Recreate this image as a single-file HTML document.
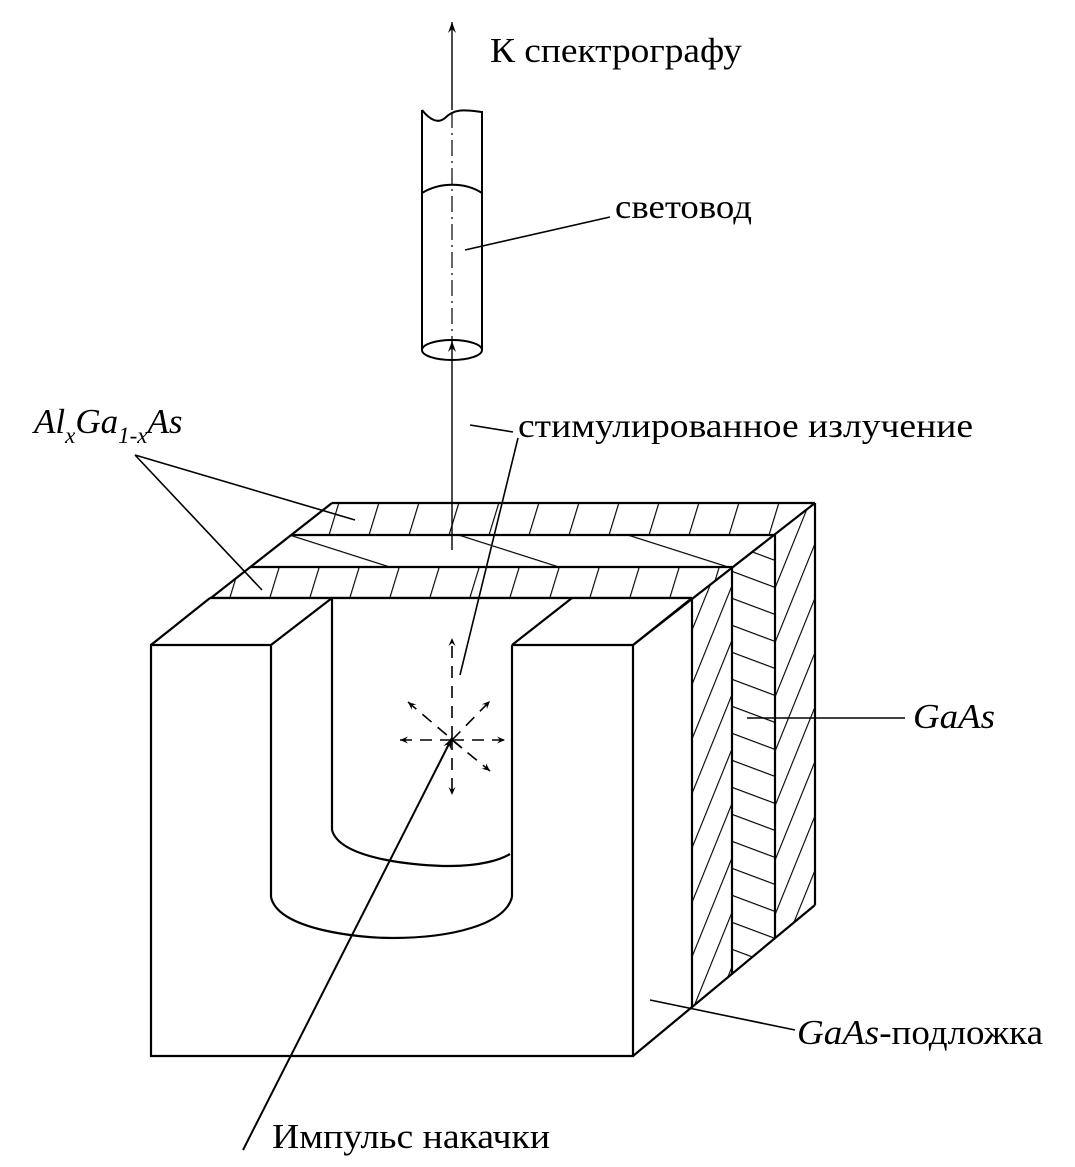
<!DOCTYPE html>
<html><head><meta charset="utf-8"><style>
html,body{margin:0;padding:0;background:#fff}
svg{display:block}
text{font-family:"Liberation Serif",serif;fill:#000}
</style></head><body>
<svg width="1075" height="1167" viewBox="0 0 1075 1167" xmlns="http://www.w3.org/2000/svg">
<defs>
<pattern id="pA" width="40" height="200" patternUnits="userSpaceOnUse" patternTransform="translate(12,0) skewX(-17)">
<line x1="0" y1="0" x2="0" y2="200" stroke="#000" stroke-width="2.4"/></pattern>
<pattern id="pB" width="400" height="54" patternUnits="userSpaceOnUse" patternTransform="translate(0,10) skewY(17.7)">
<line x1="0" y1="0" x2="400" y2="0" stroke="#000" stroke-width="2.4"/></pattern>
<pattern id="pC" width="22" height="300" patternUnits="userSpaceOnUse" patternTransform="skewX(-22)">
<line x1="0" y1="0" x2="0" y2="300" stroke="#000" stroke-width="2.4"/></pattern>
<pattern id="pD" width="200" height="27" patternUnits="userSpaceOnUse" patternTransform="skewY(20.5)">
<line x1="0" y1="0" x2="200" y2="0" stroke="#000" stroke-width="2.4"/></pattern>
<marker id="ar" markerWidth="12" markerHeight="10" refX="11" refY="5" orient="auto" markerUnits="userSpaceOnUse">
<path d="M0,1 L11,5 L0,9 L4,5 Z" fill="#000"/></marker>
<marker id="as" markerWidth="9" markerHeight="8" refX="8" refY="4" orient="auto" markerUnits="userSpaceOnUse">
<path d="M0,0.5 L8,4 L0,7.5 L3,4 Z" fill="#000"/></marker>
</defs>
<g stroke="#000" fill="none" stroke-width="2.2">
<polygon points="332,503 815,503 775,535 291,535" fill="url(#pA)" stroke="none"/>
<polygon points="291,535 775,535 732,567 250,567" fill="url(#pB)" stroke="none"/>
<polygon points="250,567 732,567 692,598 210,598" fill="url(#pA)" stroke="none"/>
<polygon points="692,599 732,568 732,974 692,1007" fill="url(#pC)" stroke="none"/>
<polygon points="732,568 775,534 775,938 732,974" fill="url(#pD)" stroke="none"/>
<polygon points="775,534 815,503 815,905 775,938" fill="url(#pC)" stroke="none"/>
<line x1="332" y1="503" x2="815" y2="503"/>
<line x1="291" y1="535" x2="775" y2="535"/>
<line x1="250" y1="567" x2="732" y2="567"/>
<line x1="210" y1="598" x2="692" y2="598"/>
<line x1="332" y1="503" x2="151" y2="645"/>
<line x1="815" y1="503" x2="633" y2="645"/>
<line x1="815" y1="503" x2="815" y2="905"/>
<line x1="775" y1="534" x2="775" y2="938"/>
<line x1="732" y1="568" x2="732" y2="974"/>
<line x1="692" y1="599" x2="692" y2="1007"/>
<line x1="815" y1="905" x2="633" y2="1056"/>
<polygon points="151,645 633,645 633,1056 151,1056" fill="#fff" stroke="none"/>
<polygon points="210,598 692,598 633,645 151,645" fill="#fff" stroke="none"/>
<path d="M271,645 L151,645 L151,1056 L633,1056 L633,645 L512,645"/>
<line x1="151" y1="645" x2="210" y2="598"/>
<line x1="633" y1="645" x2="692" y2="598"/>
<line x1="210" y1="598" x2="692" y2="598"/>
<line x1="271" y1="645" x2="332" y2="598"/>
<line x1="512" y1="645" x2="572" y2="598"/>
<path d="M271,645 L271,897 M512,645 L512,897 M332,598 L332,830"/>
<path d="M271,897 C278,930 360,938 392,938 C450,938 505,925 512,897"/>
<path d="M332,830 C340,860 420,866 450,866 C480,866 500,860 510,854"/>
</g>
<g stroke="#000" stroke-width="2" fill="none">
<path d="M422,110 C430,120 438,124 445,118 C455,108 465,110 482,112 L482,350 M422,110 L422,350"/>
<path d="M422,193 C440,182 465,182 482,193"/>
<ellipse cx="452" cy="350" rx="30" ry="10"/>
<line x1="452" y1="110" x2="452" y2="22" stroke-width="1.4" marker-end="url(#ar)"/>
<line x1="452" y1="112" x2="452" y2="350" stroke-width="1.2" stroke-dasharray="16,5,2,5"/>
<line x1="452" y1="550" x2="452" y2="341" stroke-width="1.4" marker-end="url(#ar)"/>
<g stroke-width="1.6" stroke-dasharray="12,8">
<line x1="452" y1="738" x2="452" y2="638" marker-end="url(#as)"/>
<line x1="452" y1="738" x2="452" y2="795" marker-end="url(#as)"/>
<line x1="452" y1="740" x2="400" y2="740" marker-end="url(#as)"/>
<line x1="452" y1="740" x2="505" y2="740" marker-end="url(#as)"/>
<line x1="452" y1="740" x2="490" y2="701" marker-end="url(#as)"/>
<line x1="452" y1="740" x2="490" y2="771" marker-end="url(#as)"/>
<line x1="462" y1="748" x2="408" y2="702" marker-end="url(#as)"/>
</g>
<line x1="243" y1="1150" x2="452" y2="738" stroke-width="2" marker-end="url(#ar)"/>
<line x1="465" y1="250" x2="610" y2="217" stroke-width="1.6"/>
<line x1="470" y1="425" x2="513" y2="432" stroke-width="1.6"/>
<line x1="518" y1="438" x2="460" y2="675" stroke-width="1.6"/>
<line x1="135" y1="455" x2="355" y2="520" stroke-width="1.6"/>
<line x1="135" y1="455" x2="262" y2="590" stroke-width="1.6"/>
<line x1="747" y1="718" x2="905" y2="718" stroke-width="1.6"/>
<line x1="650" y1="1000" x2="795" y2="1030" stroke-width="1.6"/>
</g>
<text x="490" y="62" font-size="35" textLength="252" lengthAdjust="spacingAndGlyphs">К спектрографу</text>
<text x="615" y="218" font-size="34" textLength="137" lengthAdjust="spacingAndGlyphs">световод</text>
<text x="518" y="437" font-size="34" textLength="455" lengthAdjust="spacingAndGlyphs">стимулированное излучение</text>
<text x="34" y="433" font-size="35" font-style="italic">Al<tspan font-size="23" dy="10">x</tspan><tspan dy="-10">Ga</tspan><tspan font-size="23" dy="10">1-x</tspan><tspan dy="-10">As</tspan></text>
<text x="913" y="728" font-size="35" font-style="italic" textLength="82" lengthAdjust="spacingAndGlyphs">GaAs</text>
<text x="797" y="1044" font-size="35" textLength="246" lengthAdjust="spacingAndGlyphs"><tspan font-style="italic">GaAs</tspan>-подложка</text>
<text x="272" y="1148" font-size="35" textLength="278" lengthAdjust="spacingAndGlyphs">Импульс накачки</text>
</svg>
</body></html>
